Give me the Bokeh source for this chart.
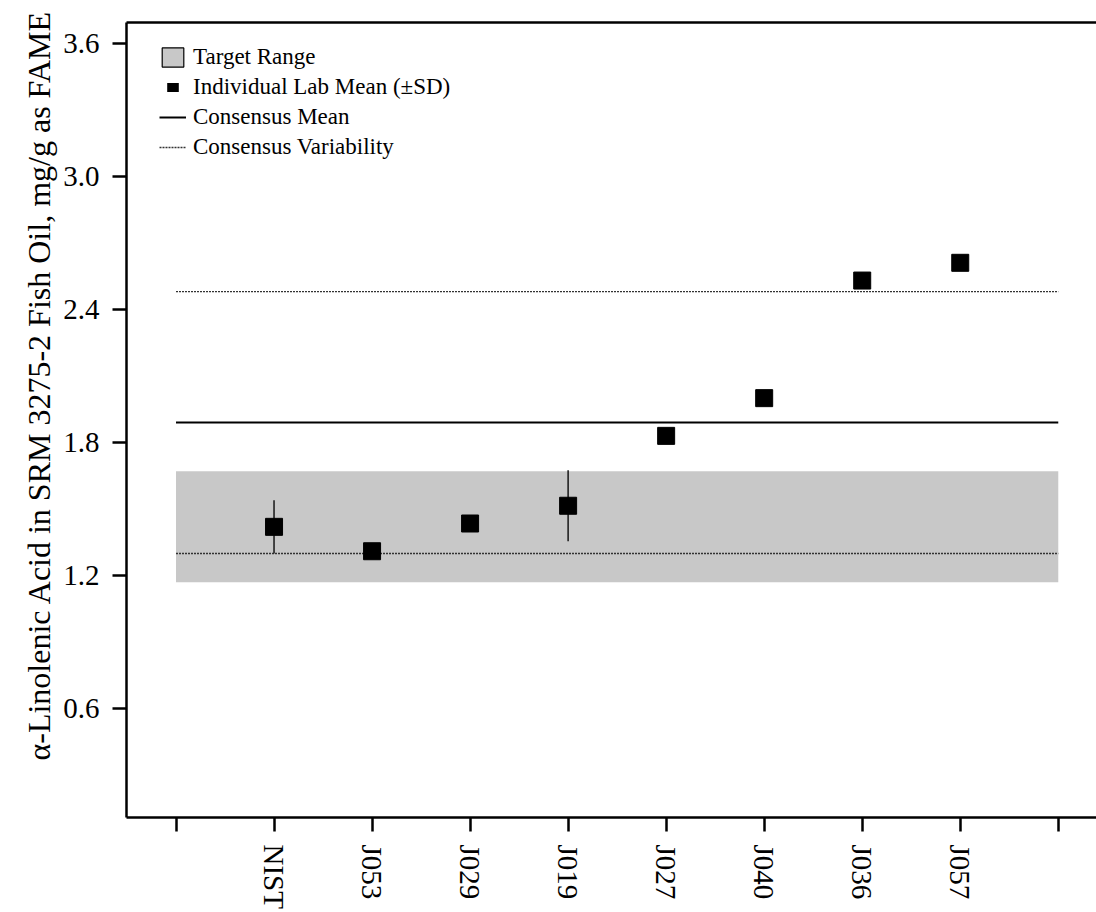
import math

from bokeh.plotting import figure
from bokeh.models import (ColumnDataSource, FixedTicker, LinearAxis, Legend,
                          LegendItem, Title, Range1d)
from bokeh.embed import file_html
from bokeh.resources import INLINE

# Laboratories, in plotting order
labs = ["NIST", "J053", "J029", "J019", "J027", "J040", "J036", "J057"]
# Mean alpha-linolenic acid per lab, mg/g as FAME
lab_means = [1.42, 1.31, 1.435, 1.515, 1.83, 2.00, 2.53, 2.61]
# Standard deviations (only reported where shown)
lab_sds = [0.12, math.nan, math.nan, 0.16, math.nan, math.nan, math.nan, math.nan]

# Target range and consensus statistics
target_low = 1.17
target_high = 1.67
consensus_mean = 1.89
consensus_var_low = 1.30
consensus_var_high = 2.48

y_ticks = [0.6, 1.2, 1.8, 2.4, 3.0, 3.6]

FONT = "Liberation Serif"

positions = list(range(1, len(labs) + 1))
span_start = 0
span_end = len(labs) + 1

src = ColumnDataSource(dict(
    x=positions,
    mean=lab_means,
    lo=[m - s for m, s in zip(lab_means, lab_sds)],
    hi=[m + s for m, s in zip(lab_means, lab_sds)],
))

p = figure(width=1096, height=912, output_backend="svg", toolbar_location=None,
           x_range=Range1d(-0.505, 9.39), y_range=Range1d(0.11, 3.693),
           min_border_left=126, min_border_right=0, min_border_top=22,
           min_border_bottom=95,
           background_fill_color="white", border_fill_color="white")
p.outline_line_color = None
p.xgrid.visible = False
p.ygrid.visible = False

# Target range band
band = p.quad(left=[span_start], right=[span_end], bottom=[target_low],
              top=[target_high], fill_color="#c8c8c8", line_color=None)

# Legend keys (not drawn in the plot area)
band_key = p.quad(left=[span_start], right=[span_end], bottom=[target_low],
                  top=[target_high], fill_color="#c8c8c8", line_color="black",
                  line_width=1.2, visible=False)
mean_key = p.quad(left=[span_start], right=[span_end], bottom=[target_low],
                  top=[target_high], fill_color="black", line_color="white",
                  line_width=10, visible=False)

# Consensus mean and variability limits
mean_line = p.line([span_start, span_end], [consensus_mean, consensus_mean],
                   line_color="black", line_width=2)
var_line = p.line([span_start, span_end], [consensus_var_low, consensus_var_low],
                  line_color="#333333", line_width=1.4, line_dash="2 1")
p.line([span_start, span_end], [consensus_var_high, consensus_var_high],
       line_color="#333333", line_width=1.4, line_dash="2 1")

# Error bars and lab means
p.segment(x0="x", x1="x", y0="lo", y1="hi", source=src,
          line_color="#222222", line_width=1.6)
p.scatter(x="x", y="mean", source=src, marker="square", size=17,
          fill_color="black", line_color="black")

# Axes
for ax in (p.xaxis[0], p.yaxis[0]):
    ax.axis_line_width = 2.5
    ax.major_tick_line_width = 2.5
    ax.major_tick_out = 14
    ax.major_tick_in = 0
    ax.minor_tick_line_color = None
    ax.major_label_text_font = FONT
    ax.major_label_text_font_size = "29px"
    ax.major_label_text_color = "black"
    ax.major_label_standoff = 13

p.xaxis[0].ticker = FixedTicker(ticks=list(range(span_start, span_end + 1)))
p.xaxis[0].major_label_overrides = {i: "" for i in range(span_start, span_end + 1)}
p.xaxis[0].major_label_overrides.update({pos: lab for pos, lab in zip(positions, labs)})
p.xaxis[0].major_label_orientation = "vertical"

p.yaxis[0].ticker = FixedTicker(ticks=y_ticks)
p.yaxis[0].major_label_overrides = {t: f"{t:.1f}" for t in y_ticks}

top_axis = LinearAxis(ticker=FixedTicker(ticks=[]), axis_line_width=2.5,
                      major_tick_line_color=None, minor_tick_line_color=None,
                      major_label_text_font_size="0px")
p.add_layout(top_axis, "above")

# Y axis title, starting a little above the frame bottom
p.add_layout(Title(text="\u03b1-Linolenic Acid in SRM 3275-2 Fish Oil, mg/g as FAME",
                   align="left", offset=57, standoff=8,
                   text_font=FONT, text_font_size="32px", text_font_style="normal",
                   text_color="black"), "left")

legend = Legend(items=[
    LegendItem(label="Target Range", renderers=[band_key]),
    LegendItem(label="Individual Lab Mean (\u00b1SD)", renderers=[mean_key]),
    LegendItem(label="Consensus Mean", renderers=[mean_line]),
    LegendItem(label="Consensus Variability", renderers=[var_line]),
], location=(33, 657), margin=0, padding=0, spacing=4,
    glyph_width=27, glyph_height=24, label_standoff=7,
    label_text_font=FONT, label_text_font_size="23px", label_text_color="black",
    background_fill_alpha=0, border_line_color=None)
p.add_layout(legend)

open("out.html", "w").write(file_html(p, INLINE))
